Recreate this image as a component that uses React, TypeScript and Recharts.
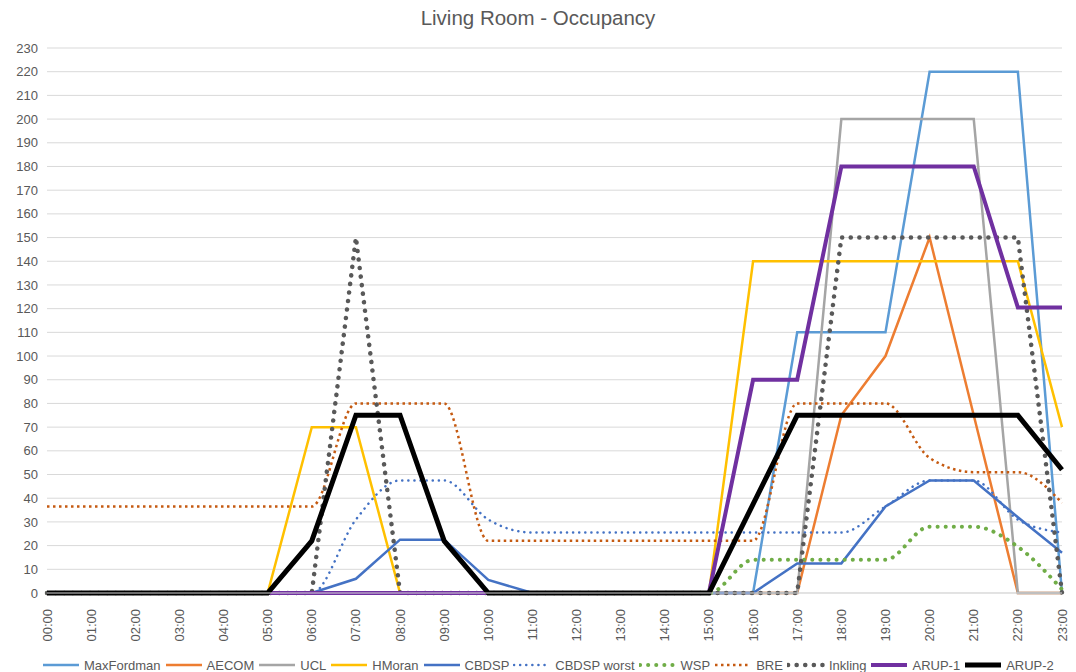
import React from 'react';
import { LineChart, Line, XAxis, YAxis, CartesianGrid, Legend } from 'recharts';

const hours = [
  '00:00', '01:00', '02:00', '03:00', '04:00', '05:00', '06:00', '07:00',
  '08:00', '09:00', '10:00', '11:00', '12:00', '13:00', '14:00', '15:00',
  '16:00', '17:00', '18:00', '19:00', '20:00', '21:00', '22:00', '23:00'
];

const maxFordman = [0, 0, 0, 0, 0, 0, 0, 0, 0, 0, 0, 0, 0, 0, 0, 0, 0, 110, 110, 110, 220, 220, 220, 0];
const aecom = [0, 0, 0, 0, 0, 0, 0, 0, 0, 0, 0, 0, 0, 0, 0, 0, 0, 0, 75, 100, 150, 75, 0, 0];
const ucl = [0, 0, 0, 0, 0, 0, 0, 0, 0, 0, 0, 0, 0, 0, 0, 0, 0, 0, 200, 200, 200, 200, 0, 0];
const hMoran = [0, 0, 0, 0, 0, 0, 70, 70, 0, 0, 0, 0, 0, 0, 0, 0, 140, 140, 140, 140, 140, 140, 140, 70];
const cbdsp = [0, 0, 0, 0, 0, 0, 0, 6, 22.5, 22.5, 5.5, 0, 0, 0, 0, 0, 0, 12.5, 12.5, 36.5, 47.5, 47.5, 32, 17];
const cbdspWorst = [0, 0, 0, 0, 0, 0, 0, 31, 47.5, 47.5, 31, 25.5, 25.5, 25.5, 25.5, 25.5, 25.5, 25.5, 25.5, 36.5, 47.5, 47.5, 31, 25.5];
const wsp = [0, 0, 0, 0, 0, 0, 0, 0, 0, 0, 0, 0, 0, 0, 0, 0, 14, 14, 14, 14, 28, 28, 19.5, 1.5];
const bre = [36.5, 36.5, 36.5, 36.5, 36.5, 36.5, 36.5, 80, 80, 80, 22, 22, 22, 22, 22, 22, 22, 80, 80, 80, 57, 51, 51, 38];
const inkling = [0, 0, 0, 0, 0, 0, 0, 150, 0, 0, 0, 0, 0, 0, 0, 0, 0, 0, 150, 150, 150, 150, 150, 0];
const arup1 = [0, 0, 0, 0, 0, 0, 0, 0, 0, 0, 0, 0, 0, 0, 0, 0, 90, 90, 180, 180, 180, 180, 120.5, 120.5];
const arup2 = [0, 0, 0, 0, 0, 0, 22, 75, 75, 22, 0, 0, 0, 0, 0, 0, 37.5, 75, 75, 75, 75, 75, 75, 52];

const yTicks = [0, 10, 20, 30, 40, 50, 60, 70, 80, 90, 100, 110, 120, 130, 140, 150, 160, 170, 180, 190, 200, 210, 220, 230];

// style per series, roughly matching the excel line formats
const series = [
  { key: 'MaxFordman', values: maxFordman, color: '#5B9BD5', width: 2.5, dash: undefined, curve: 'linear', cap: 'butt' },
  { key: 'AECOM', values: aecom, color: '#ED7D31', width: 2.5, dash: undefined, curve: 'linear', cap: 'butt' },
  { key: 'UCL', values: ucl, color: '#A5A5A5', width: 2.5, dash: undefined, curve: 'linear', cap: 'butt' },
  { key: 'HMoran', values: hMoran, color: '#FFC000', width: 2.5, dash: undefined, curve: 'linear', cap: 'butt' },
  { key: 'CBDSP', values: cbdsp, color: '#4472C4', width: 2.5, dash: undefined, curve: 'linear', cap: 'butt' },
  { key: 'CBDSP worst', values: cbdspWorst, color: '#4472C4', width: 2.5, dash: '0.1 6', curve: 'monotone', cap: 'round' },
  { key: 'WSP', values: wsp, color: '#70AD47', width: 4, dash: '0.1 8', curve: 'monotone', cap: 'round' },
  { key: 'BRE', values: bre, color: '#C55A11', width: 2.5, dash: '2.5 3.5', curve: 'monotone', cap: 'butt' },
  { key: 'Inkling', values: inkling, color: '#595959', width: 4.5, dash: '0.1 8.5', curve: 'linear', cap: 'round' },
  { key: 'ARUP-1', values: arup1, color: '#7030A0', width: 4, dash: undefined, curve: 'linear', cap: 'butt' },
  { key: 'ARUP-2', values: arup2, color: '#000000', width: 5, dash: undefined, curve: 'linear', cap: 'butt' }
];

const data = hours.map((h, i) => {
  const row: { [k: string]: string | number } = { hour: h };
  series.forEach(s => { row[s.key] = s.values[i]; });
  return row;
});

const FONT = '"Liberation Sans", Arial, sans-serif';

const HourTick = (props: any) => {
  const { x, y, payload } = props;
  return (
    <g transform={`translate(${x},${y})`}>
      <text transform="rotate(-90)" x={-8} y={0} dy={4.5} textAnchor="end" fill="#595959" fontSize={13} fontFamily={FONT}>
        {payload.value}
      </text>
    </g>
  );
};

const LegendBox = () => (
  <div style={{ display: 'flex', alignItems: 'center', height: 20, paddingLeft: 42, fontFamily: FONT, fontSize: 13, color: '#595959' }}>
    {series.map(s => (
      <div key={s.key} style={{ display: 'flex', alignItems: 'center', marginRight: 4 }}>
        <svg width={38} height={10} style={{ marginRight: 4 }}>
          <line x1={1} y1={5} x2={37} y2={5} stroke={s.color} strokeWidth={s.width} strokeDasharray={s.dash} strokeLinecap={s.cap as any} />
        </svg>
        <span>{s.key}</span>
      </div>
    ))}
  </div>
);

export default function App() {
  return (
    <div style={{ position: 'absolute', left: 0, top: 0, width: 1076, height: 672, background: '#fff' }}>
      <div style={{ position: 'absolute', top: 6, left: 0, width: 1076, textAlign: 'center', fontFamily: FONT, fontSize: 20.5, color: '#595959' }}>
        Living Room - Occupancy
      </div>
      <LineChart width={1076} height={672} data={data} margin={{ top: 48, right: 14, left: 0, bottom: 0 }}>
        <CartesianGrid vertical={false} stroke="#D9D9D9" strokeWidth={1} />
        <XAxis
          dataKey="hour"
          interval={0}
          height={59}
          tick={<HourTick />}
          tickLine={false}
          axisLine={{ stroke: '#D9D9D9' }}
        />
        <YAxis
          domain={[0, 230]}
          ticks={yTicks}
          interval={0}
          width={47}
          tickLine={false}
          axisLine={false}
          tickMargin={3}
          tick={{ fill: '#595959', fontSize: 13, fontFamily: FONT }}
        />
        <Legend verticalAlign="bottom" height={20} wrapperStyle={{ left: 0, width: 1076, bottom: -3 }} content={<LegendBox />} />
        {series.map(s => (
          <Line
            key={s.key}
            dataKey={s.key}
            type={s.curve as any}
            stroke={s.color}
            strokeWidth={s.width}
            strokeDasharray={s.dash}
            strokeLinecap={s.cap as any}
            dot={false}
            activeDot={false}
            isAnimationActive={false}
          />
        ))}
      </LineChart>
    </div>
  );
}
